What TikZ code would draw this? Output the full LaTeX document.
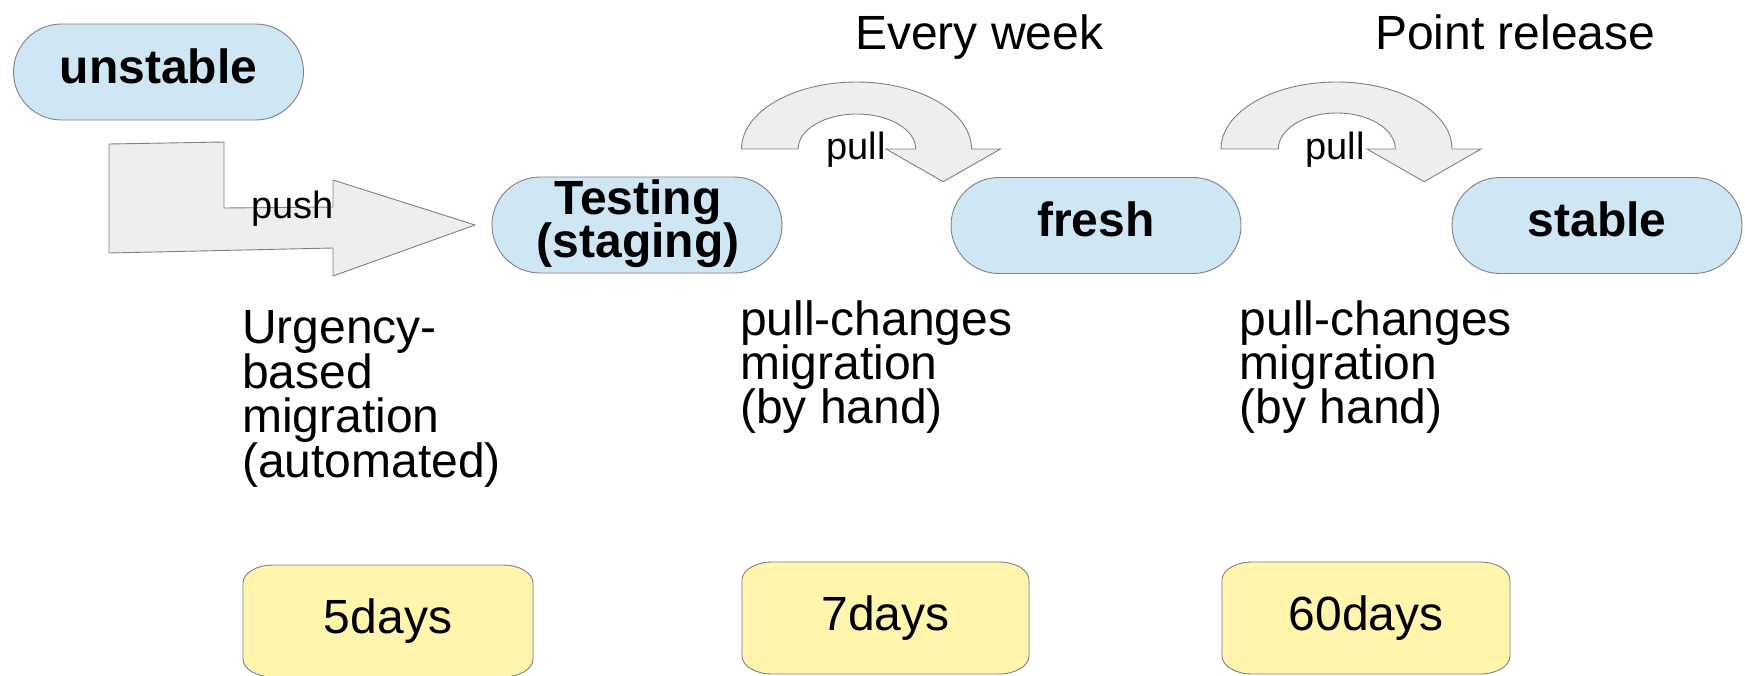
\documentclass[tikz,border=0pt]{standalone}
\usepackage{fontspec}
\setmainfont{Liberation Sans}
\usetikzlibrary{backgrounds}
\definecolor{boxblue}{HTML}{CFE7F5}
\definecolor{boxyellow}{HTML}{FFF5AD}
\definecolor{arrowgray}{HTML}{EEEEEE}
\definecolor{linegray}{HTML}{808080}
\newcommand\leftlines[2]{\vtop{\baselineskip=#1\lineskiplimit=-100pt\lineskip=0pt\halign{##\hfil\cr#2\crcr}}}
\newcommand\centerlines[2]{\vtop{\baselineskip=#1\lineskiplimit=-100pt\lineskip=0pt\halign{\hfil##\hfil\cr#2\crcr}}}
\begin{document}
\begin{tikzpicture}[x=1pt,y=-1pt,
  stadium/.style={draw=linegray, line width=0.9pt, fill=boxblue, rounded corners=48pt,
    minimum width=290pt, minimum height=96pt, inner sep=0pt, outer sep=0pt,
    font=\fontsize{48pt}{58pt}\selectfont\bfseries, text height=34pt, text depth=12pt},
  daynode/.style={inner sep=0pt, outer sep=0pt, minimum height=112pt,
    font=\fontsize{48pt}{58pt}\selectfont, text height=34pt, text depth=10pt},
  daybox/.style={draw=linegray, line width=0.9pt, fill=boxyellow},
  desc/.style={anchor=base west, inner sep=0pt, font=\fontsize{48pt}{44.5pt}\selectfont},
  title/.style={anchor=base west, inner sep=0pt, font=\fontsize{48pt}{58pt}\selectfont},
  bigarrow/.style={draw=linegray, line width=0.9pt, fill=arrowgray, line join=miter},
  small/.style={anchor=base west, inner sep=0pt, font=\fontsize{38pt}{46pt}\selectfont}]

\useasboundingbox (0,0) rectangle (1745,675);

% stadium nodes
\node[stadium] (unstable) at (158.5,72) {unstable};
\node[stadium] (testing) at (637,225) {};
\node[anchor=base, inner sep=0pt, font=\fontsize{48pt}{58pt}\selectfont\bfseries] (testingtext) at (638,214) {\centerlines{43.5pt}{Testing\cr(staging)}};
\node[stadium] (fresh) at (1096,225.5) {fresh};
\node[stadium] (stable) at (1597,225.5) {stable};

% bent push arrow
\coordinate (pushtip) at (475,225);
\draw[bigarrow] (109,144) -- (224,142) -- (224,208) -- (333,207) -- (333,180) -- (pushtip)
  -- (333,276) -- (333,248) -- (109,253) -- cycle;
\node[small] (push) at (250.8,218) {push};

% curved pull arrows
\draw[bigarrow] (741.5,149) arc[start angle=180, end angle=0, x radius=115pt, y radius=67pt]
  -- (1000.5,149) -- (943.2,181.7) -- (886,149) -- (915.7,149)
  arc[start angle=0, end angle=180, x radius=58.8pt, y radius=35pt] -- cycle;
\node[small] (pull1) at (826.4,159) {pull};

\draw[bigarrow] (1221,149) arc[start angle=180, end angle=0, x radius=115.5pt, y radius=67pt]
  -- (1481,149) -- (1424.2,181.7) -- (1366.8,149) -- (1395.3,149)
  arc[start angle=0, end angle=180, x radius=58.5pt, y radius=36pt] -- cycle;
\node[small] (pull2) at (1305.2,159) {pull};

% titles
\node[title] (everyweek) at (855,49) {Every week};
\node[title] (pointrel) at (1375,49) {Point release};

% descriptions
\node[desc] (desc1) at (242,343.5) {\leftlines{44.5pt}{Urgency-\cr based\cr migration\cr (automated)}};
\node[desc] (desc2) at (740,335.5) {\leftlines{44pt}{pull-changes\cr migration\cr (by hand)}};
\node[desc] (desc3) at (1239.5,335.5) {\leftlines{44pt}{pull-changes\cr migration\cr (by hand)}};

% day boxes
\node[daynode, minimum width=290pt] (days5) at (388,621) {5days};
\node[daynode, minimum width=287pt] (days7) at (885.5,618) {7days};
\node[daynode, minimum width=288pt] (days60) at (1366,618) {60days};
\begin{scope}[on background layer]
\foreach \n in {days5,days7,days60}{
  \draw[daybox] ([xshift=30pt]\n.north west) -- ([xshift=-30pt]\n.north east)
    arc[start angle=90, end angle=0, x radius=30pt, y radius=18pt]
    -- ([yshift=18pt]\n.south east)
    arc[start angle=0, end angle=-90, x radius=30pt, y radius=18pt]
    -- ([xshift=30pt]\n.south west)
    arc[start angle=-90, end angle=-180, x radius=30pt, y radius=18pt]
    -- ([yshift=-18pt]\n.north west)
    arc[start angle=180, end angle=90, x radius=30pt, y radius=18pt] -- cycle;
}
\end{scope}
\end{tikzpicture}
\end{document}
